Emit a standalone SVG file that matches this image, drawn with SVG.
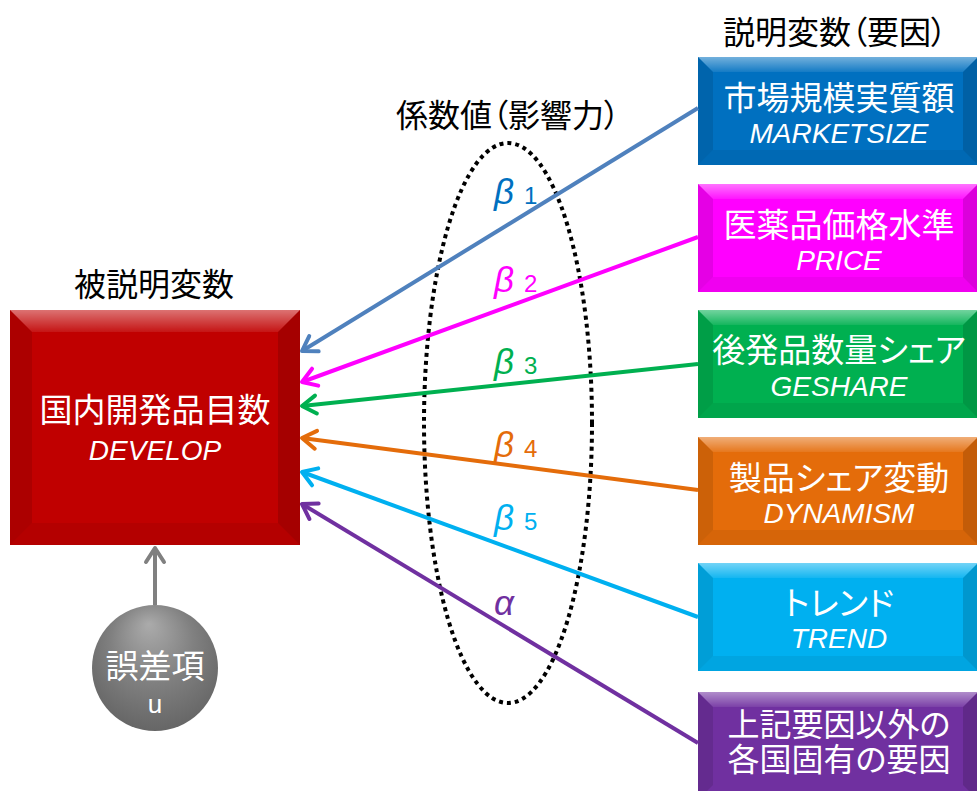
<svg xmlns="http://www.w3.org/2000/svg" width="977" height="791" viewBox="0 0 977 791">
<style>
.cjk{font-family:"Noto Sans CJK JP","Noto Sans CJK SC",sans-serif;font-feature-settings:"palt";text-anchor:middle}
.title{font-size:32px;fill:#000}
.bt{font-size:33px;fill:#fff}
.bt2{font-size:32px;fill:#fff}
.lat{font-family:"Liberation Sans",Arial,sans-serif;font-style:italic;font-size:28px;fill:#fff;text-anchor:middle}
.gk{font-family:"Liberation Sans",Arial,sans-serif;font-style:italic;font-size:35px}
.sub{font-family:"Liberation Sans",Arial,sans-serif;font-style:normal;font-size:24px}
.topb{fill:url(#topg)}
.leftb{fill:#000;fill-opacity:0.10}
.rightb{fill:#000;fill-opacity:0.14}
.botb{fill:#000;fill-opacity:0.06}
.conn{fill:none;stroke-width:4}
.ah{fill:none;stroke-width:4;stroke-linecap:round;stroke-linejoin:round}
</style>
<defs>
<linearGradient id="topg" x1="0" y1="0" x2="0" y2="1">
<stop offset="0" stop-color="#fff" stop-opacity="0.45"/>
<stop offset="1" stop-color="#fff" stop-opacity="0.08"/>
</linearGradient>
<radialGradient id="gray" cx="0.5" cy="0.4" r="0.6" fx="0.45" fy="0.15">
<stop offset="0" stop-color="#ABABAB"/>
<stop offset="0.55" stop-color="#808080"/>
<stop offset="1" stop-color="#666"/>
</radialGradient>
<marker id="m1" markerUnits="userSpaceOnUse" markerWidth="40" markerHeight="40" refX="0" refY="0" viewBox="-20 -20 40 40" orient="auto"><path class="ah" stroke="#4F81BD" d="M-14,-9 L0,0 L-14,9"/></marker>
<marker id="m2" markerUnits="userSpaceOnUse" markerWidth="40" markerHeight="40" refX="0" refY="0" viewBox="-20 -20 40 40" orient="auto"><path class="ah" stroke="#FF00FF" d="M-14,-9 L0,0 L-14,9"/></marker>
<marker id="m3" markerUnits="userSpaceOnUse" markerWidth="40" markerHeight="40" refX="0" refY="0" viewBox="-20 -20 40 40" orient="auto"><path class="ah" stroke="#00B050" d="M-14,-9 L0,0 L-14,9"/></marker>
<marker id="m4" markerUnits="userSpaceOnUse" markerWidth="40" markerHeight="40" refX="0" refY="0" viewBox="-20 -20 40 40" orient="auto"><path class="ah" stroke="#E46C0A" d="M-14,-9 L0,0 L-14,9"/></marker>
<marker id="m5" markerUnits="userSpaceOnUse" markerWidth="40" markerHeight="40" refX="0" refY="0" viewBox="-20 -20 40 40" orient="auto"><path class="ah" stroke="#00B0F0" d="M-14,-9 L0,0 L-14,9"/></marker>
<marker id="m6" markerUnits="userSpaceOnUse" markerWidth="40" markerHeight="40" refX="0" refY="0" viewBox="-20 -20 40 40" orient="auto"><path class="ah" stroke="#7030A0" d="M-14,-9 L0,0 L-14,9"/></marker>
<marker id="mg" markerUnits="userSpaceOnUse" markerWidth="40" markerHeight="40" refX="0" refY="0" viewBox="-20 -20 40 40" orient="auto"><path class="ah" stroke="#808080" d="M-14,-9 L0,0 L-14,9"/></marker>
</defs>
<rect width="977" height="791" fill="#fff"/>

<!-- titles -->
<text class="cjk title" x="835" y="44">説明変数（要因）</text>
<text class="cjk title" x="508" y="127">係数値（影響力）</text>
<text class="cjk title" x="154" y="296">被説明変数</text>

<!-- ellipse -->
<ellipse cx="508" cy="423" rx="84" ry="280" fill="none" stroke="#000" stroke-width="4" stroke-dasharray="4 4"/>

<!-- dependent variable -->
<g id="develop">
<rect x="10" y="310" width="290" height="235" fill="#C00000"/>
<polygon class="topb" points="10,310 300,310 278,332 32,332"/>
<polygon class="leftb" points="10,310 32,332 32,523 10,545"/>
<polygon class="rightb" points="300,310 278,332 278,523 300,545"/>
<polygon class="botb" points="10,545 32,523 278,523 300,545"/>
<text class="cjk bt" x="155" y="422">国内開発品目数</text>
<text class="lat" x="155" y="460">DEVELOP</text>
</g>

<!-- error term -->
<g id="error">
<circle cx="155" cy="668" r="63" fill="url(#gray)"/>
<text class="cjk bt" x="155" y="678">誤差項</text>
<text x="155" y="713" style="font-family:'Liberation Sans',Arial,sans-serif;font-size:26px;fill:#fff;text-anchor:middle">u</text>
</g>

<!-- explanatory variables -->
<g id="marketsize">
<rect x="698" y="57" width="280" height="108" fill="#0070C0"/>
<polygon class="topb" points="698,57 978,57 963,72 713,72"/>
<polygon class="leftb" points="698,57 713,72 713,150 698,165"/>
<polygon class="rightb" points="978,57 963,72 963,150 978,165"/>
<polygon class="botb" points="698,165 713,150 963,150 978,165"/>
<text class="cjk bt" x="839" y="110">市場規模実質額</text>
<text class="lat" x="839" y="143">MARKETSIZE</text>
</g>
<g id="price">
<rect x="698" y="184" width="280" height="108" fill="#FF00FF"/>
<polygon class="topb" points="698,184 978,184 963,199 713,199"/>
<polygon class="leftb" points="698,184 713,199 713,277 698,292"/>
<polygon class="rightb" points="978,184 963,199 963,277 978,292"/>
<polygon class="botb" points="698,292 713,277 963,277 978,292"/>
<text class="cjk bt" x="839" y="237">医薬品価格水準</text>
<text class="lat" x="839" y="270">PRICE</text>
</g>
<g id="geshare">
<rect x="698" y="310" width="280" height="108" fill="#00B050"/>
<polygon class="topb" points="698,310 978,310 963,325 713,325"/>
<polygon class="leftb" points="698,310 713,325 713,403 698,418"/>
<polygon class="rightb" points="978,310 963,325 963,403 978,418"/>
<polygon class="botb" points="698,418 713,403 963,403 978,418"/>
<text class="cjk bt" x="839" y="362">後発品数量シェア</text>
<text class="lat" x="839" y="396">GESHARE</text>
</g>
<g id="dynamism">
<rect x="698" y="437" width="280" height="108" fill="#E46C0A"/>
<polygon class="topb" points="698,437 978,437 963,452 713,452"/>
<polygon class="leftb" points="698,437 713,452 713,530 698,545"/>
<polygon class="rightb" points="978,437 963,452 963,530 978,545"/>
<polygon class="botb" points="698,545 713,530 963,530 978,545"/>
<text class="cjk bt" x="839" y="490">製品シェア変動</text>
<text class="lat" x="839" y="523">DYNAMISM</text>
</g>
<g id="trend">
<rect x="698" y="563" width="280" height="108" fill="#00B0F0"/>
<polygon class="topb" points="698,563 978,563 963,578 713,578"/>
<polygon class="leftb" points="698,563 713,578 713,656 698,671"/>
<polygon class="rightb" points="978,563 963,578 963,656 978,671"/>
<polygon class="botb" points="698,671 713,656 963,656 978,671"/>
<text class="cjk bt" x="839" y="615">トレンド</text>
<text class="lat" x="839" y="648">TREND</text>
</g>
<g id="other">
<rect x="698" y="692" width="280" height="108" fill="#7030A0"/>
<polygon class="topb" points="698,692 978,692 963,707 713,707"/>
<polygon class="leftb" points="698,692 713,707 713,785 698,800"/>
<polygon class="rightb" points="978,692 963,707 963,785 978,800"/>
<text class="cjk bt2" x="839" y="736">上記要因以外の</text>
<text class="cjk bt2" x="839" y="771">各国固有の要因</text>
</g>

<!-- connectors -->
<g id="connectors">
<line class="conn" stroke="#4F81BD" x1="698" y1="108" x2="302" y2="351" marker-end="url(#m1)"/>
<line class="conn" stroke="#FF00FF" x1="698" y1="237" x2="302" y2="382" marker-end="url(#m2)"/>
<line class="conn" stroke="#00B050" x1="698" y1="364" x2="302" y2="406" marker-end="url(#m3)"/>
<line class="conn" stroke="#E46C0A" x1="698" y1="490" x2="302" y2="438" marker-end="url(#m4)"/>
<line class="conn" stroke="#00B0F0" x1="698" y1="617" x2="302" y2="472" marker-end="url(#m5)"/>
<line class="conn" stroke="#7030A0" x1="698" y1="743" x2="302" y2="504" marker-end="url(#m6)"/>
<line class="conn" stroke="#808080" x1="155" y1="605" x2="155" y2="548" marker-end="url(#mg)"/>
</g>

<!-- coefficient labels -->
<g id="labels">
<text x="494" y="204" fill="#0070C0"><tspan class="gk">β</tspan><tspan class="sub" x="524">1</tspan></text>
<text x="494" y="292" fill="#FF00FF"><tspan class="gk">β</tspan><tspan class="sub" x="524">2</tspan></text>
<text x="494" y="374" fill="#00B050"><tspan class="gk">β</tspan><tspan class="sub" x="524">3</tspan></text>
<text x="494" y="457" fill="#E46C0A"><tspan class="gk">β</tspan><tspan class="sub" x="524">4</tspan></text>
<text x="494" y="530" fill="#00B0F0"><tspan class="gk">β</tspan><tspan class="sub" x="524">5</tspan></text>
<text x="494" y="615" fill="#7030A0"><tspan class="gk">α</tspan></text>
</g>
</svg>
